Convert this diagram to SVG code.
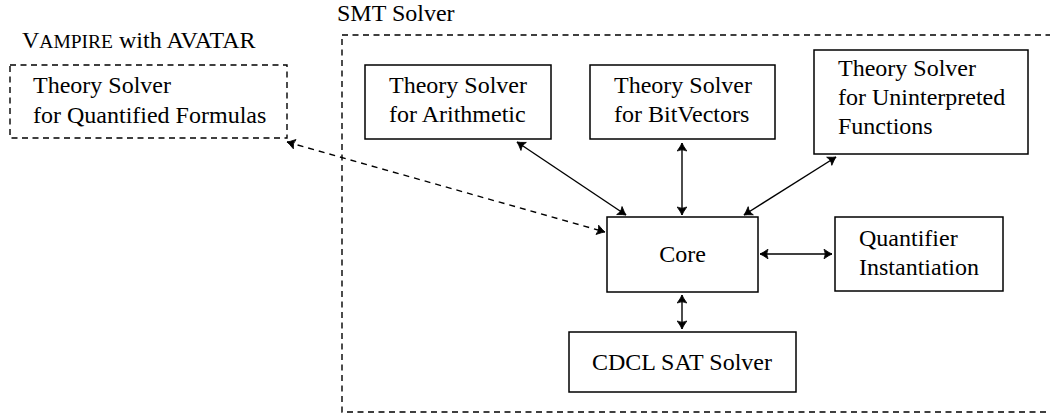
<svg xmlns="http://www.w3.org/2000/svg" width="1050" height="415" viewBox="0 0 1050 415">
<style>
.box { fill: #fff; stroke: #000; stroke-width: 1.5; }
.dbox { fill: none; stroke: #000; stroke-width: 1.4; stroke-dasharray: 6 4.5; }
.conn { stroke: #000; stroke-width: 1.4; fill: none; marker-start: url(#arr); marker-end: url(#arr); }
.dconn { stroke: #000; stroke-width: 1.4; fill: none; stroke-dasharray: 6 5; marker-start: url(#arr); marker-end: url(#arr); }
</style>
<defs>
<marker id="arr" viewBox="-10 -6 12 12" refX="0" refY="0" markerWidth="12" markerHeight="12" markerUnits="userSpaceOnUse" orient="auto-start-reverse">
<path d="M -8 -4.8 Q -2.5 -1 0 0 Q -2.5 1 -8 4.8 Q -5.5 0 -8 -4.8 Z" fill="#000" stroke="#000" stroke-width="0.8" stroke-linejoin="round"/>
</marker>
</defs>
<g id="smt">
<rect class="dbox" x="342" y="35" width="720" height="377"/>
<text x="337" y="21" font-family="Liberation Serif" font-size="24">SMT Solver</text>
</g>
<g id="vampire">
<rect class="dbox" x="10" y="65" width="277" height="73"/>
<text x="22" y="48" font-family="Liberation Serif" font-size="24">V<tspan font-size="19.5">AMPIRE</tspan> with AVATAR</text>
<text x="33" y="93" font-family="Liberation Serif" font-size="24">Theory Solver</text>
<text x="33" y="123" font-family="Liberation Serif" font-size="24">for Quantified Formulas</text>
</g>
<g id="arith">
<rect class="box" x="365" y="65" width="186" height="74"/>
<text x="389" y="93" font-family="Liberation Serif" font-size="24">Theory Solver</text>
<text x="389" y="122" font-family="Liberation Serif" font-size="24">for Arithmetic</text>
</g>
<g id="bitvec">
<rect class="box" x="590" y="65" width="185" height="74"/>
<text x="614" y="93" font-family="Liberation Serif" font-size="24">Theory Solver</text>
<text x="614" y="122" font-family="Liberation Serif" font-size="24">for BitVectors</text>
</g>
<g id="uf">
<rect class="box" x="814" y="50" width="214" height="104"/>
<text x="838" y="76" font-family="Liberation Serif" font-size="24">Theory Solver</text>
<text x="838" y="105" font-family="Liberation Serif" font-size="24">for Uninterpreted</text>
<text x="838" y="134" font-family="Liberation Serif" font-size="24">Functions</text>
</g>
<g id="core">
<rect class="box" x="607" y="217" width="151" height="75"/>
<text x="682.5" y="262" text-anchor="middle" font-family="Liberation Serif" font-size="24">Core</text>
</g>
<g id="quant">
<rect class="box" x="835" y="217" width="168" height="74"/>
<text x="859" y="246" font-family="Liberation Serif" font-size="24">Quantifier</text>
<text x="859" y="275" font-family="Liberation Serif" font-size="24">Instantiation</text>
</g>
<g id="cdcl">
<rect class="box" x="569" y="332" width="227" height="60"/>
<text x="682" y="370" text-anchor="middle" font-family="Liberation Serif" font-size="24">CDCL SAT Solver</text>
</g>
<g id="connectors">
<line class="conn" x1="517" y1="142" x2="626" y2="215"/>
<line class="conn" x1="682" y1="143" x2="682" y2="215"/>
<line class="conn" x1="836" y1="157" x2="744" y2="215"/>
<line class="conn" x1="760" y1="254" x2="832" y2="254"/>
<line class="conn" x1="682" y1="295" x2="682" y2="329"/>
<line class="dconn" x1="287" y1="142" x2="605" y2="232"/>
</g>
</svg>
